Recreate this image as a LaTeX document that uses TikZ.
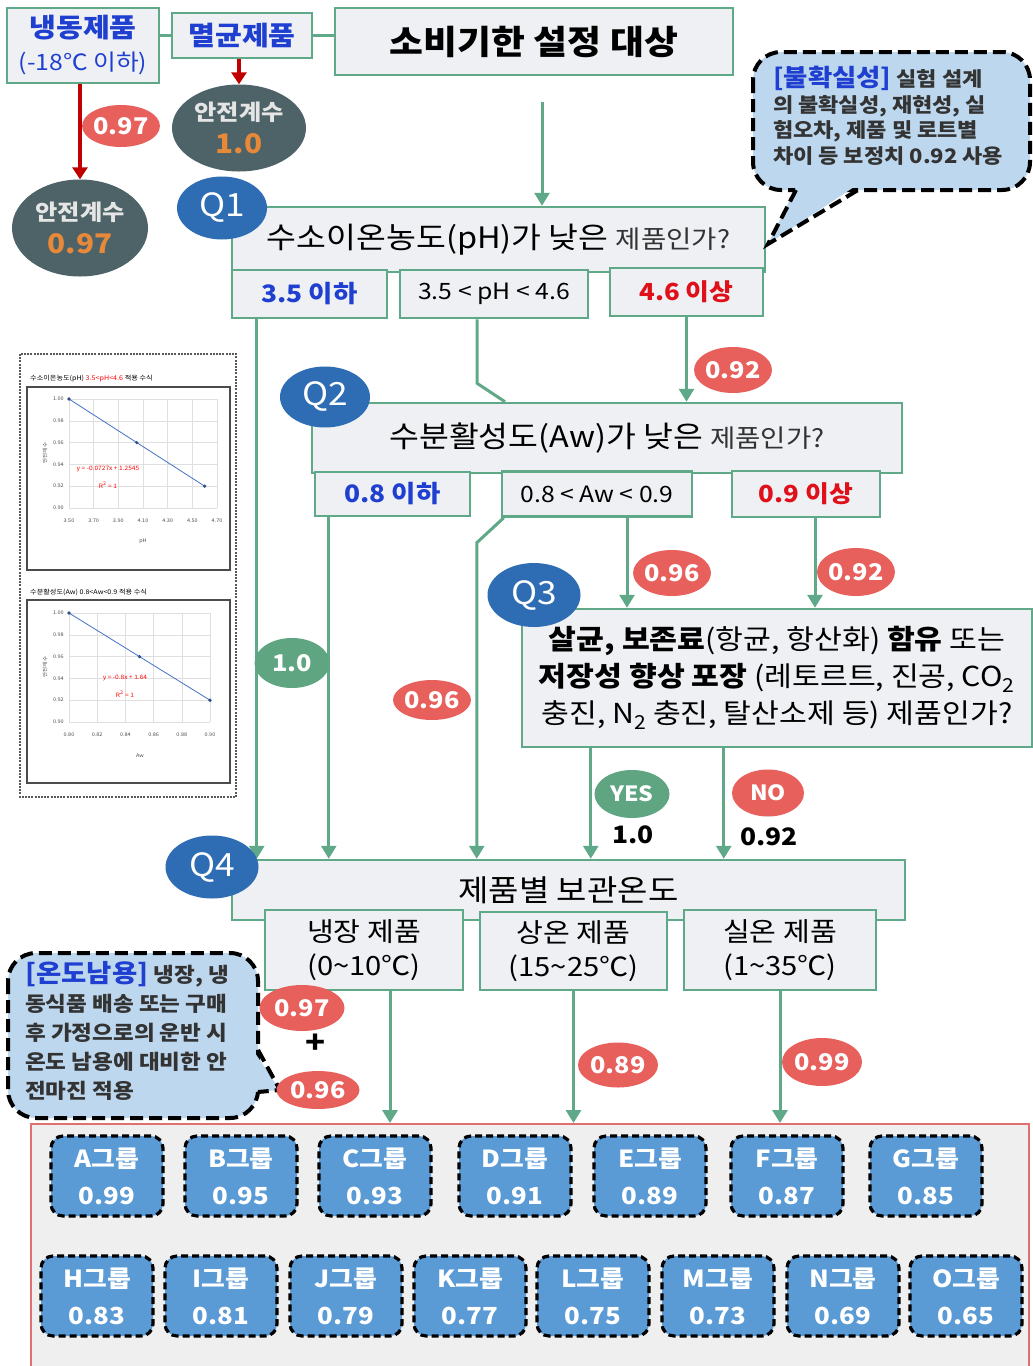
\documentclass[tikz,border=0pt]{standalone}
\usepackage{fontspec}
\setmainfont{Noto Sans CJK KR}[FakeStretch=1.1]
\usetikzlibrary{shapes.geometric,arrows.meta,calc}
\definecolor{gline}{HTML}{5FA888}
\definecolor{boxfill}{HTML}{EEF0F3}
\definecolor{qblue}{HTML}{2E6DB4}
\definecolor{lred}{HTML}{E8605C}
\definecolor{lgreen}{HTML}{5FA582}
\definecolor{slate}{HTML}{4E6368}
\definecolor{vorange}{HTML}{E8893A}
\definecolor{darkred}{HTML}{C00000}
\definecolor{callfill}{HTML}{BDD7EE}
\definecolor{tblue}{HTML}{1F3FD0}
\definecolor{tred}{HTML}{E0101A}
\definecolor{grpfill}{HTML}{5B9BD5}
\definecolor{contborder}{HTML}{E07070}
\definecolor{contfill}{HTML}{EFEFEF}
\definecolor{txtgray}{HTML}{333333}
\definecolor{chartline}{HTML}{4472C4}
\newcommand\fsz[2]{\fontsize{#1}{#2}\selectfont}
\begin{document}
\begin{tikzpicture}[x=1pt,y=-1pt,
  sz/.style 2 args={minimum width=#1pt, minimum height=#2pt},
  gl/.style={draw=gline, line width=3pt},
  garr/.style={gl, -{Triangle[width=15pt,length=13pt]}},
  rarr/.style={draw=darkred, line width=3.5pt, -{Triangle[width=15pt,length=12pt]}},
  gbox/.style={draw=gline, line width=2.5pt, fill=boxfill, inner sep=1pt, align=center},
  qell/.style={ellipse, fill=qblue, text=white, inner sep=0pt, font=\fsz{32}{34}},
  rell/.style={ellipse, fill=lred, text=white, inner sep=0pt, font=\bfseries\fsz{23}{26}},
  gell/.style={ellipse, fill=lgreen, text=white, inner sep=0pt, font=\bfseries\fsz{23}{26}},
  sell/.style={ellipse, fill=slate, inner sep=0pt, align=center, font=\bfseries\fsz{22}{33}},
  grp/.style={draw=black, line width=3.2pt, dash pattern=on 7pt off 4pt, rounded corners=12pt, fill=grpfill, text=white, align=center, minimum width=112pt, minimum height=80pt, font=\bfseries\fsz{23.5}{37}},
  callout/.style={draw=black, line width=4pt, dash pattern=on 13pt off 6pt},
  tick/.style={font=\fsz{5}{6}, text=black!70, inner sep=0pt},
  ctitle/.style={font=\fsz{6.5}{8}, inner sep=0pt},
]
\useasboundingbox (0,0) rectangle (1033,1366);
\fill[white] (0,0) rectangle (1033,1366);

% ---------- left chart panel ----------
\draw[gray!70!black, line width=1.2pt, dash pattern=on 2pt off 1.2pt] (20,354) rectangle (236,797);
\draw[gray!60!black, line width=1.2pt] (27,387) rectangle (230,570);
\node[ctitle, anchor=west] (c1t) at (30,379) {수소이온농도(pH) {\color{red}3.5<pH<4.6} 적용 수식};
\foreach \i/\v in {0/0.90,1/0.92,2/0.94,3/0.96,4/0.98,5/1.00} {
  \draw[gray!25, line width=0.5pt] (69,508-21.8*\i) -- (217,508-21.8*\i);
  \node[tick, anchor=east] at (64,508-21.8*\i) {\v};
}
\foreach \i/\v in {0/3.50,1/3.70,2/3.90,3/4.10,4/4.30,5/4.50,6/4.70} {
  \draw[gray!25, line width=0.5pt] (69+24.67*\i,399) -- (69+24.67*\i,508);
  \node[tick] at (69+24.67*\i,521) {\v};
}
\draw[chartline, line width=0.8pt] (69,399) -- (136.8,442.6) -- (204.7,486.2);
\foreach \px/\py in {69/399,136.8/442.6,204.7/486.2} \fill[chartline!70!black] (\px,\py) circle (1.8pt);
\node[font=\fsz{6}{7}, text=red, inner sep=0pt] (eq1) at (108,469) {y = -0.0727x + 1.2545};
\node[font=\fsz{6}{7}, text=red, inner sep=0pt] (r1) at (108,485) {R\textsuperscript{2} = 1};
\node[tick] (x1) at (143,541) {pH};
\node[tick, rotate=90] (y1) at (45,453) {안전계수};

\draw[gray!60!black, line width=1.2pt] (27,600) rectangle (230,783);
\node[ctitle, anchor=west] (c2t) at (30,592) {수분활성도(Aw) 0.8<Aw<0.9 적용 수식};
\foreach \i/\v in {0/0.90,1/0.92,2/0.94,3/0.96,4/0.98,5/1.00} {
  \draw[gray!25, line width=0.5pt] (69,722-21.8*\i) -- (210,722-21.8*\i);
  \node[tick, anchor=east] at (64,722-21.8*\i) {\v};
}
\foreach \i/\v in {0/0.80,1/0.82,2/0.84,3/0.86,4/0.88,5/0.90} {
  \draw[gray!25, line width=0.5pt] (69+28.2*\i,613) -- (69+28.2*\i,722);
  \node[tick] at (69+28.2*\i,735) {\v};
}
\draw[chartline, line width=0.8pt] (69,613) -- (139.5,656.6) -- (210,700.2);
\foreach \px/\py in {69/613,139.5/656.6,210/700.2} \fill[chartline!70!black] (\px,\py) circle (1.8pt);
\node[font=\fsz{6}{7}, text=red, inner sep=0pt] (eq2) at (125,678) {y = -0.8x + 1.64};
\node[font=\fsz{6}{7}, text=red, inner sep=0pt] (r2) at (125,694) {R\textsuperscript{2} = 1};
\node[tick] (x2) at (140,756) {Aw};
\node[tick, rotate=90] (y2) at (45,667) {안전계수};

% ---------- group container ----------
\node[draw=contborder, fill=contfill, line width=1.5pt, anchor=north west, minimum width=998pt, minimum height=260pt, inner sep=0pt] (cont) at (30,1123) {};
\foreach \n/\x/\t/\v in {ga/107/A/0.99, gb/241/B/0.95, gc/375/C/0.93, gd/515/D/0.91, ge/650/E/0.89, gf/787/F/0.87, gg/926/G/0.85}
  \node[grp] (\n) at (\x,1176) {{\t}그룹\\\v};
\foreach \n/\x/\t/\v in {gh/97/H/0.83, gi/221/I/0.81, gj/346/J/0.79, gk/470/K/0.77, gl2/593/L/0.75, gm/718/M/0.73, gn/843/N/0.69, go/966/O/0.65}
  \node[grp] (\n) at (\x,1296) {{\t}그룹\\\v};

% ---------- top row ----------
\node[gbox, sz={152}{75}, text=tblue, font=\fsz{22.5}{33}] (frozen) at (83,45.5) {{\bfseries\fsz{26.5}{33}냉동제품}\\(-18℃ 이하)};
\node[gbox, sz={140}{45}, text=tblue, font=\bfseries\fsz{26.5}{28}] (steril) at (242,35.5) {멸균제품};
\node[gbox, sz={398}{67}, font=\bfseries\fsz{33.5}{36}] (title) at (534,41.5) {소비기한 설정 대상};
\draw[gl] (steril.west) -- (steril.west -| frozen.east);
\draw[gl] (steril.east) -- (steril.east -| title.west);

\node[sell, sz={136}{97}] (sf1) at (80,228) {{\color{white!90!black}안전계수}\\{\color{vorange}\fsz{27}{33}0.97}};
\node[sell, sz={134}{87}] (sf2) at (239,128) {{\color{white!90!black}안전계수}\\{\color{vorange}\fsz{27}{33}1.0}};
\draw[rarr] (frozen.south -| sf1.north) -- (sf1.north);
\draw[rarr] (steril.south -| sf2.north) -- (sf2.north);

% ---------- Q1 ----------
\node[gbox, sz={533}{65}] (q1) at (498.5,239.5) {\fsz{29.5}{32}수소이온농도(pH)가 낮은 {\color{txtgray}\fsz{25}{28}제품인가?}};
\node[gbox, sz={155}{48}, text=tblue, font=\bfseries\fsz{24}{26}] (s11) at (309.5,294) {3.5 이하};
\node[gbox, sz={188}{48}, font=\fsz{22.5}{26}] (s12) at (494,294) {3.5 < pH < 4.6};
\node[gbox, sz={153}{48}, text=tred, font=\bfseries\fsz{23.5}{26}] (s13) at (686.5,292) {4.6 이상};

% ---------- Q2 ----------
\node[gbox, sz={590}{70}] (q2) at (607,438) {\fsz{29.5}{32}수분활성도(Aw)가 낮은 {\color{txtgray}\fsz{25}{28}제품인가?}};
\node[gbox, sz={155}{44}, text=tblue, font=\bfseries\fsz{24}{26}] (s21) at (392.5,494) {0.8 이하};
\node[gbox, sz={190}{45}, font=\fsz{22.5}{26}] (s22) at (597,494) {0.8 < Aw < 0.9};
\node[gbox, sz={148}{46}, text=tred, font=\bfseries\fsz{23.5}{26}] (s23) at (806,494) {0.9 이상};

% ---------- Q3 ----------
\node[gbox, sz={510}{138}, font=\fsz{27.5}{37}] (q3) at (777,678) {{\bfseries 살균, 보존료}(항균, 항산화) {\bfseries 함유} 또는\\{\bfseries 저장성 향상 포장} (레토르트, 진공, CO\textsubscript{2}\\충진, N\textsubscript{2} 충진, 탈산소제 등) 제품인가?};

% ---------- Q4 ----------
\node[gbox, sz={673}{60}, font=\fsz{30}{32}] (q4) at (568.5,890) {제품별 보관온도};
\node[gbox, sz={198}{80}, font=\fsz{26.5}{34}] (s41) at (364,950) {냉장 제품\\(0\textasciitilde 10℃)};
\node[gbox, sz={187}{78}, font=\fsz{26.5}{34}] (s42) at (573.5,951) {상온 제품\\(15\textasciitilde 25℃)};
\node[gbox, sz={192}{80}, font=\fsz{26.5}{34}] (s43) at (780,950) {실온 제품\\(1\textasciitilde 35℃)};

% ---------- callouts ----------
\draw[callout, fill=callfill, rounded corners=28pt] (753,52) rectangle (1030,190);
\fill[callfill] (797,185) -- (857,185) -- (768,244) -- cycle;
\draw[callout] (796,190) -- (768,244) -- (858,190);
\node[anchor=north west, align=left, inner sep=0pt, font=\bfseries\fsz{20}{25.5}, text=txtgray] (ct1) at (773,66) {{\color{tblue}\fsz{24}{25.5}[불확실성]} 실험 설계\\의 불확실성, 재현성, 실\\험오차, 제품 및 로트별\\차이 등 보정치 0.92 사용};

\draw[callout, fill=callfill, rounded corners=28pt] (8,953) rectangle (258,1118);
\fill[callfill] (253,1050) -- (253,1092) -- (280,1090) -- cycle;
\draw[callout] (258,1050) -- (280,1090) -- (258,1092);
\node[anchor=north west, align=left, inner sep=0pt, font=\bfseries\fsz{20.5}{29}, text=txtgray] (ct2) at (25,961) {{\color{tblue}\fsz{25}{29}[온도남용]} 냉장, 냉\\동식품 배송 또는 구매\\후 가정으로의 운반 시\\온도 남용에 대비한 안\\전마진 적용};

% ---------- connectors ----------
\coordinate (ta) at (542,102);
\draw[garr] (ta) -- (ta |- q1.north);
\coordinate (a1) at ($(s11.south west)+(26,0)$);
\draw[garr] (a1) -- (a1 |- q4.north);
\coordinate (a2) at ($(s12.south)+(-17,0)$);
\draw[gl] (a2) -- ($(a2)+(0,64)$) -- ($(a2 |- q2.north)+(28,0)$);
\draw[garr] (s13.south) -- (s13.south |- q2.north);
\coordinate (b1) at ($(s21.south west)+(15,0)$);
\draw[garr] (b1) -- (b1 |- q4.north);
\coordinate (b2) at ($(s22.south west)+(3,0)$);
\draw[garr] (b2) -- ($(b2)+(-27,25)$) -- ($(b2 |- q4.north)+(-27,0)$);
\coordinate (b3) at ($(s22.south)+(30,0)$);
\draw[garr] (b3) -- (b3 |- q3.north);
\coordinate (b4) at ($(s23.south)+(9,0)$);
\draw[garr] (b4) -- (b4 |- q3.north);
\coordinate (c1) at ($(q3.south west)+(70,0)$);
\draw[garr] (c1) -- (c1 |- q4.north);
\coordinate (c2) at ($(q3.south west)+(203,0)$);
\draw[garr] (c2) -- (c2 |- q4.north);
\coordinate (d1) at ($(s41.south)+(26,0)$);
\draw[garr] (d1) -- (d1 |- cont.north);
\draw[garr] (s42.south) -- (s42.south |- cont.north);
\draw[garr] (s43.south) -- (s43.south |- cont.north);

% ---------- labels ----------
\node[rell, sz={72}{42}] (l1) at (121,126) {0.97};
\node[rell, sz={77}{46}] (l2) at (733,370) {0.92};
\node[rell, sz={75}{46}] (l3) at (672,573) {0.96};
\node[rell, sz={72}{48}] (l4) at (856,572) {0.92};
\node[gell, sz={75}{50}] (l5) at (292,663) {1.0};
\node[rell, sz={75}{40}] (l6) at (432,700) {0.96};
\node[gell, sz={75}{48}, font=\bfseries\fsz{21}{24}] (l7) at (632,794) {YES};
\node[font=\bfseries\fsz{24}{26}] (l7v) at (633,835) {1.0};
\node[rell, sz={72}{47}, font=\bfseries\fsz{21}{24}] (l8) at (768,793) {NO};
\node[font=\bfseries\fsz{24}{26}] (l8v) at (769,837) {0.92};
\node[rell, sz={85}{46}] (l9) at (302,1008) {0.97};
\node[font=\bfseries\fsz{30}{30}] (plus) at (316,1044) {+};
\node[rell, sz={83}{38}] (l10) at (318,1090) {0.96};
\node[rell, sz={80}{45}] (l11) at (618,1065) {0.89};
\node[rell, sz={80}{48}] (l12) at (822,1062) {0.99};

% ---------- Q ellipses ----------
\node[qell, sz={90}{63}] (q1l) at (222,208) {Q1};
\node[qell, sz={90}{61}] (q2l) at (325,397) {Q2};
\node[qell, sz={93}{64}] (q3l) at (534,595) {Q3};
\node[qell, sz={93}{63}] (q4l) at (212,867) {Q4};
\end{tikzpicture}
\end{document}
